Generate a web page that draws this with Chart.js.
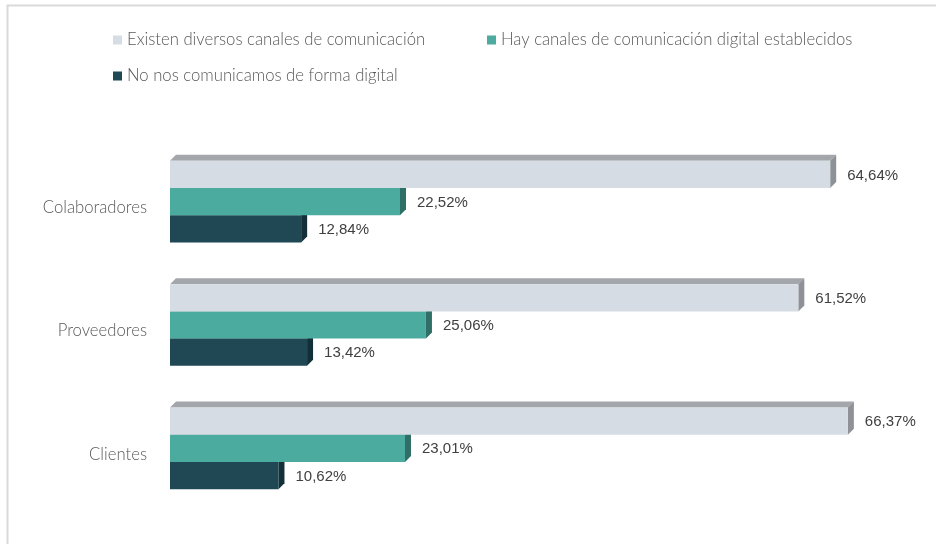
<!DOCTYPE html>
<html>
<head>
<meta charset="utf-8">
<script src="https://cdn.jsdelivr.net/npm/chart.js@4.4.1/dist/chart.umd.min.js"></script>
<style>
  html, body { margin: 0; padding: 0; background: #fff; }
</style>
</head>
<body>
<canvas id="myChart" width="936" height="544"></canvas>
<script>
// data
const categories = ['Colaboradores', 'Proveedores', 'Clientes'];
const seriesNames = [
  'Existen diversos canales de comunicación',
  'Hay canales de comunicación digital establecidos',
  'No nos comunicamos de forma digital'
];
const diversos = [64.64, 61.52, 66.37];
const establecidos = [22.52, 25.06, 23.01];
const noDigital = [12.84, 13.42, 10.62];

const frontColors = ['#d6dce4', '#4cab9f', '#1f4854'];
const sideColors = ['#8e9195', '#2f6f68', '#132f38'];
const topColors = ['#a3a6aa', '#3d8c83', '#1a3d47'];
const DX = 6, DY = 6;

const fmt = v => v.toFixed(2).replace('.', ',') + '%';

// white background + the thin grey frame
const framePlugin = {
  id: 'frame',
  beforeDraw(chart) {
    const ctx = chart.ctx;
    ctx.save();
    ctx.fillStyle = '#fff';
    ctx.fillRect(0, 0, chart.width, chart.height);
    ctx.strokeStyle = '#dadada';
    ctx.lineWidth = 2;
    ctx.beginPath();
    ctx.moveTo(7.5, chart.height);
    ctx.lineTo(7.5, 5.5);
    ctx.lineTo(chart.width, 5.5);
    ctx.stroke();
    ctx.restore();
  }
};

// fake 3D depth: top and right faces drawn behind the bars
const depthPlugin = {
  id: 'depth',
  beforeDatasetsDraw(chart) {
    const ctx = chart.ctx;
    ctx.save();
    chart.data.datasets.forEach((ds, i) => {
      chart.getDatasetMeta(i).data.forEach(bar => {
        const x0 = bar.base, x1 = bar.x;
        const y0 = bar.y - bar.height / 2, y1 = bar.y + bar.height / 2;
        ctx.fillStyle = topColors[i];
        ctx.beginPath();
        ctx.moveTo(x0, y0);
        ctx.lineTo(x0 + DX, y0 - DY);
        ctx.lineTo(x1 + DX, y0 - DY);
        ctx.lineTo(x1, y0);
        ctx.closePath();
        ctx.fill();
        ctx.fillStyle = sideColors[i];
        ctx.beginPath();
        ctx.moveTo(x1, y0);
        ctx.lineTo(x1 + DX, y0 - DY);
        ctx.lineTo(x1 + DX, y1 - DY);
        ctx.lineTo(x1, y1);
        ctx.closePath();
        ctx.fill();
      });
    });
    ctx.restore();
  },
  afterDatasetsDraw(chart) {
    const ctx = chart.ctx;
    ctx.save();
    ctx.font = '15px "Liberation Sans", Arial, sans-serif';
    ctx.fillStyle = '#404040';
    ctx.textBaseline = 'middle';
    ctx.textAlign = 'left';
    chart.data.datasets.forEach((ds, i) => {
      chart.getDatasetMeta(i).data.forEach((bar, j) => {
        ctx.fillText(fmt(ds.data[j]), bar.x + DX + 11, bar.y + 1);
      });
    });
    ctx.restore();
  }
};

// legend laid out like the original (two on the first row, one below)
const legendPlugin = {
  id: 'legendRows',
  afterDraw(chart) {
    const ctx = chart.ctx;
    const spots = [[113, 40], [487, 40], [113, 76]];
    ctx.save();
    ctx.font = '300 16.7px Lato, sans-serif';
    ctx.textBaseline = 'middle';
    chart.data.datasets.forEach((ds, i) => {
      const [x, y] = spots[i];
      ctx.fillStyle = ds.backgroundColor;
      ctx.fillRect(x, y - 4.5, 9, 9);
      ctx.fillStyle = '#595959';
      ctx.fillText(ds.label, x + 14, y);
    });
    ctx.restore();
  }
};

const data = {
  labels: categories,
  datasets: [
    { label: seriesNames[0], data: diversos, backgroundColor: frontColors[0] },
    { label: seriesNames[1], data: establecidos, backgroundColor: frontColors[1] },
    { label: seriesNames[2], data: noDigital, backgroundColor: frontColors[2] }
  ]
};

const config = {
  type: 'bar',
  data: data,
  options: {
    indexAxis: 'y',
    responsive: false,
    animation: false,
    categoryPercentage: 0.662,
    barPercentage: 1.0,
    layout: { padding: { top: 140, bottom: 34, left: 0, right: 0 } },
    plugins: {
      legend: { display: false },
      tooltip: { enabled: false }
    },
    scales: {
      x: { display: false, min: 0, max: 75 },
      y: {
        grid: { display: false, drawTicks: false },
        border: { display: false },
        afterFit(scale) { scale.width = 170; },
        ticks: {
          padding: 23,
          labelOffset: 6,
          color: '#595959',
          font: { family: 'Lato, sans-serif', size: 16.7, weight: 300 }
        }
      }
    }
  },
  plugins: [framePlugin, depthPlugin, legendPlugin]
};

const ctx = document.getElementById('myChart').getContext('2d');
const myChart = new Chart(ctx, config);
</script>
</body>
</html>
